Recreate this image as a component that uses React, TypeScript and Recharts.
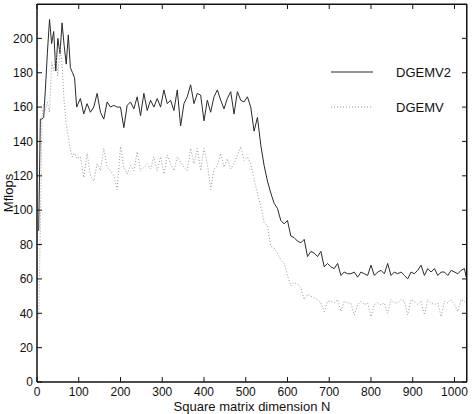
import { LineChart, Line, XAxis, YAxis, Legend, ReferenceLine, CartesianGrid } from 'recharts'

// matrix dimension N
const sizes = [
  4, 8, 12, 16, 20, 25, 30, 35, 40, 45, 50, 55, 60, 65, 70, 75, 80, 85, 90, 95,
  104, 112, 120, 128, 136, 144, 152, 160, 168, 176,
  184, 192, 200, 208, 216, 224, 232, 240, 248, 256,
  264, 272, 280, 288, 296, 304, 312, 320, 328, 336,
  344, 352, 360, 368, 376, 384, 392, 400, 408, 416,
  424, 432, 440, 448, 456, 464, 472, 480, 488, 496,
  504, 512, 520, 528, 536, 544, 552, 560, 568, 576,
  584, 592, 600, 608, 616, 624, 632, 640, 648, 656,
  664, 672, 680, 688, 696, 704, 712, 720, 728, 736,
  744, 752, 760, 768, 776, 784, 792, 800, 808, 816,
  824, 832, 840, 848, 856, 864, 872, 880, 888, 896,
  904, 912, 920, 928, 936, 944, 952, 960, 968, 976,
  984, 992, 1000, 1008, 1016, 1024, 1028,
]

const dgemv2 = [
  88, 153, 153, 154, 170, 192, 211, 197, 204, 181, 200, 191, 209, 196, 185, 202, 183, 180, 177, 160,
  165, 156, 162, 157, 160, 168, 157, 153, 163, 160,
  161, 160, 160, 148, 161, 163, 159, 166, 155, 168,
  158, 164, 160, 165, 160, 170, 162, 164, 158, 170,
  149, 162, 166, 173, 162, 168, 167, 152, 164, 157,
  166, 170, 164, 159, 165, 169, 156, 169, 164, 163,
  166, 160, 146, 154, 138, 126, 117, 110, 104, 101,
  94, 92, 94, 85, 84, 82, 81, 83, 73, 76,
  75, 73, 76, 67, 69, 67, 66, 69, 62, 64,
  63, 63, 64, 61, 64, 63, 62, 68, 62, 64,
  65, 63, 69, 62, 64, 63, 64, 62, 60, 64,
  63, 65, 68, 62, 66, 64, 66, 62, 64, 64,
  62, 65, 64, 63, 65, 66, 61,
]

const dgemv = [
  37, 90, 155, 162, 158, 163, 157, 186, 181, 192, 178, 196, 185, 163, 150, 143, 135, 131, 133, 130,
  131, 119, 133, 120, 117, 127, 123, 136, 125, 123,
  120, 112, 137, 125, 121, 126, 123, 134, 123, 125,
  127, 124, 131, 123, 131, 121, 132, 127, 123, 131,
  128, 125, 123, 136, 127, 136, 123, 136, 127, 112,
  124, 126, 133, 125, 130, 124, 127, 132, 137, 129,
  131, 127, 118, 110, 102, 93, 91, 79, 78, 75,
  71, 69, 62, 56, 58, 57, 55, 48, 51, 50,
  49, 48, 46, 41, 47, 47, 46, 48, 41, 47,
  46, 46, 39, 45, 47, 45, 46, 38, 45, 46,
  45, 46, 40, 48, 46, 46, 48, 47, 39, 48,
  47, 45, 47, 39, 48, 46, 45, 46, 38, 47,
  46, 48, 45, 41, 48, 47, 46,
]

const xTicks = [0, 100, 200, 300, 400, 500, 600, 700, 800, 900, 1000]
const yTicks = [0, 20, 40, 60, 80, 100, 120, 140, 160, 180, 200]
const seriesOrder = ['DGEMV2', 'DGEMV']

const xMax = 1030
const yMax = 220
// inward tick length, in data units (about 5px each way)
const xTickLen = 12
const yTickLen = 2.9

const chartW = 474
const chartH = 414
const margin = { top: 4, right: 7, left: 0, bottom: 0 }
const yAxisW = 37
const xAxisH = 32

const data = sizes.map((n, i) => ({ n, dgemv2: dgemv2[i], dgemv: dgemv[i] }))

const font = 'Liberation Sans, Arial, Helvetica, sans-serif'
const tickStyle = { fontSize: 12, fill: '#111', fontFamily: font }
const ink = '#111'

function LegendBox(props: any) {
  const items = (props.payload || [])
    .filter((it: any) => seriesOrder.includes(it.value))
    .sort((a: any, b: any) => seriesOrder.indexOf(a.value) - seriesOrder.indexOf(b.value))
  return (
    <svg width={130} height={60} style={{ display: 'block' }}>
      {items.map((it: any, i: number) => {
        const y = 12 + i * 35
        return (
          <g key={it.value}>
            <line
              x1={0}
              x2={42}
              y1={y}
              y2={y}
              stroke={it.color}
              strokeWidth={1}
              strokeDasharray={it.payload?.strokeDasharray}
            />
            <text
              x={65}
              y={y}
              dominantBaseline="central"
              fontSize={13}
              fontFamily={font}
              fill={ink}
            >
              {it.value}
            </text>
          </g>
        )
      })}
    </svg>
  )
}

export default function App() {
  return (
    <div style={{ position: 'absolute', left: 0, top: 0, background: '#fff' }}>
      <LineChart width={chartW} height={chartH} data={data} margin={margin}>
        <CartesianGrid
          stroke={ink}
          fill="none"
          horizontalCoordinatesGenerator={({ offset }: any) => [
            offset.top,
            offset.top + offset.height,
          ]}
          verticalCoordinatesGenerator={({ offset }: any) => [
            offset.left,
            offset.left + offset.width,
          ]}
        />
        <XAxis
          dataKey="n"
          type="number"
          domain={[0, xMax]}
          ticks={xTicks}
          allowDataOverflow
          height={xAxisH}
          tick={tickStyle}
          tickLine={false}
          tickSize={0}
          tickMargin={5}
          axisLine={{ stroke: ink }}
          label={{
            value: 'Square matrix dimension N',
            position: 'insideBottom',
            offset: 3,
            fontSize: 13,
            fontFamily: font,
            fill: ink,
          }}
        />
        <YAxis
          type="number"
          domain={[0, yMax]}
          ticks={yTicks}
          width={yAxisW}
          tick={tickStyle}
          tickLine={false}
          tickSize={0}
          tickMargin={4}
          axisLine={{ stroke: ink }}
          label={{
            content: () => (
              <text
                x={8}
                y={193}
                transform="rotate(-90 8 193)"
                textAnchor="middle"
                dominantBaseline="central"
                fontSize={13}
                fontFamily={font}
                fill={ink}
              >
                Mflops
              </text>
            ),
          }}
        />
        {xTicks.map((t) => (
          <ReferenceLine
            key={`b${t}`}
            segment={[{ x: t, y: 0 }, { x: t, y: yTickLen }]}
            stroke={ink}
          />
        ))}
        {xTicks.map((t) => (
          <ReferenceLine
            key={`t${t}`}
            segment={[{ x: t, y: yMax }, { x: t, y: yMax - yTickLen }]}
            stroke={ink}
          />
        ))}
        {yTicks.map((t) => (
          <ReferenceLine
            key={`l${t}`}
            segment={[{ x: 0, y: t }, { x: xTickLen, y: t }]}
            stroke={ink}
          />
        ))}
        {yTicks.map((t) => (
          <ReferenceLine
            key={`r${t}`}
            segment={[{ x: xMax, y: t }, { x: xMax - xTickLen, y: t }]}
            stroke={ink}
          />
        ))}
        <Legend
          layout="vertical"
          align="center"
          verticalAlign="middle"
          content={LegendBox}
          wrapperStyle={{ position: 'absolute', left: 331, top: 60, width: 130 }}
        />
        <Line
          type="linear"
          dataKey="dgemv2"
          name="DGEMV2"
          stroke="#2a2a2a"
          strokeWidth={1}
          dot={false}
          isAnimationActive={false}
        />
        <Line
          type="linear"
          dataKey="dgemv"
          name="DGEMV"
          stroke="#999"
          strokeWidth={1}
          strokeDasharray="1 2"
          dot={false}
          isAnimationActive={false}
        />
      </LineChart>
      {/* top and right edges of the plot frame */}
      <div
        style={{
          position: 'absolute',
          left: margin.left + yAxisW,
          top: margin.top,
          width: chartW - margin.left - margin.right - yAxisW,
          height: chartH - margin.top - margin.bottom - xAxisH,
          borderTop: `1px solid ${ink}`,
          borderRight: `1px solid ${ink}`,
          boxSizing: 'border-box',
          pointerEvents: 'none',
        }}
      />
    </div>
  )
}
